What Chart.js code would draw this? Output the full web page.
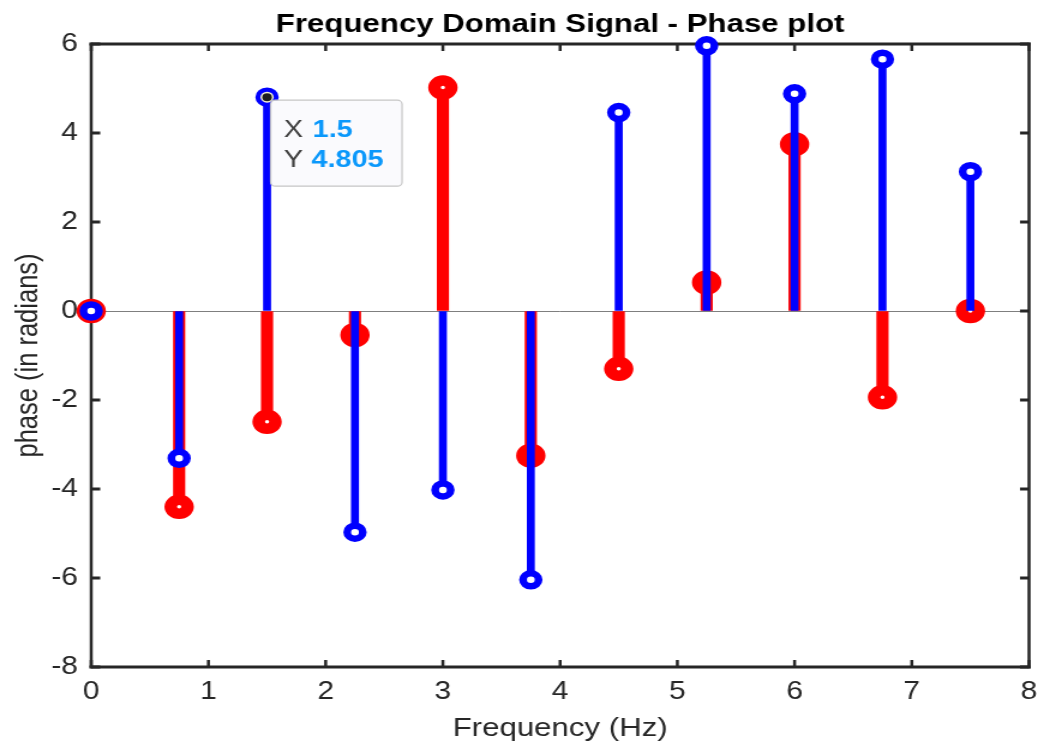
<!DOCTYPE html>
<html>
<head>
<meta charset="utf-8">
<title>Frequency Domain Signal - Phase plot</title>
<script src="https://cdn.jsdelivr.net/npm/chart.js@4"></script>
<style>
    html, body { margin: 0; padding: 0; background: #fff; }
    #phaseChart { display: block; }
</style>
</head>
<body>
<!-- the reference screenshot is stretched sideways, so the canvas is too -->
<canvas id="phaseChart" width="875" height="747" style="width:1050px;height:747px"></canvas>
<script>
const freq = [0, 0.75, 1.5, 2.25, 3, 3.75, 4.5, 5.25, 6, 6.75, 7.5];
const redPhase = [0, -4.40, -2.49, -0.54, 5.02, -3.25, -1.30, 0.64, 3.75, -1.94, 0];
const bluePhase = [0, -3.31, 4.805, -4.97, -4.02, -6.04, 4.46, 5.96, 4.88, 5.66, 3.13];
const xTicks = [0, 1, 2, 3, 4, 5, 6, 7, 8];
const yTicks = [-8, -6, -4, -2, 0, 2, 4, 6];
const tipIndex = 2; // data tip sits on the blue stem at 1.5 Hz

const FONT = '"Liberation Sans", Arial, Helvetica, sans-serif';
const AXIS = '#262626';

const points = vals => freq.map((f, i) => ({ x: f, y: vals[i] }));
const stems = vals => freq.map((f, i) => ({ x: f, y: [0, vals[i]] }));

// title, box and inward ticks like a matlab axes
const matlabAxes = {
    id: 'matlabAxes',
    beforeDatasetsDraw(chart) {
        const { ctx, chartArea: a, scales: { x, y } } = chart;
        ctx.save();
        ctx.strokeStyle = AXIS;
        ctx.lineCap = 'square';

        ctx.lineWidth = 3;
        ctx.beginPath();
        ctx.moveTo(a.left, a.top); ctx.lineTo(a.right, a.top);
        ctx.moveTo(a.left, a.bottom); ctx.lineTo(a.right, a.bottom);
        ctx.stroke();
        ctx.lineWidth = 2.5;
        ctx.beginPath();
        ctx.moveTo(a.left, a.top); ctx.lineTo(a.left, a.bottom);
        ctx.moveTo(a.right, a.top); ctx.lineTo(a.right, a.bottom);
        ctx.stroke();

        ctx.lineCap = 'butt';
        ctx.lineWidth = 2.5;
        ctx.beginPath();
        xTicks.forEach(t => {
            const px = x.getPixelForValue(t);
            ctx.moveTo(px, a.bottom); ctx.lineTo(px, a.bottom - 7);
            ctx.moveTo(px, a.top); ctx.lineTo(px, a.top + 7);
        });
        ctx.stroke();
        ctx.lineWidth = 3;
        ctx.beginPath();
        yTicks.forEach(t => {
            const py = y.getPixelForValue(t);
            ctx.moveTo(a.left, py); ctx.lineTo(a.left + 7.5, py);
            ctx.moveTo(a.right, py); ctx.lineTo(a.right - 7.5, py);
        });
        ctx.stroke();

        ctx.fillStyle = '#000';
        ctx.font = `bold 26px ${FONT}`;
        ctx.textAlign = 'center';
        ctx.textBaseline = 'alphabetic';
        ctx.fillText('Frequency Domain Signal - Phase plot', (a.left + a.right) / 2, 32);
        ctx.restore();
    },
    afterDatasetsDraw(chart) {
        const { ctx, scales: { x, y } } = chart;
        const tx = freq[tipIndex], ty = bluePhase[tipIndex];
        const px = x.getPixelForValue(tx);
        const py = y.getPixelForValue(ty);
        ctx.save();
        // highlighted point
        ctx.fillStyle = '#fbf6d6';
        ctx.beginPath(); ctx.arc(px, py, 5.5, 0, Math.PI * 2); ctx.fill();
        ctx.fillStyle = '#1e1e1e';
        ctx.beginPath(); ctx.arc(px, py, 4, 0, Math.PI * 2); ctx.fill();

        // data tip box
        const bx = px + 3, by = py + 3, bw = 109.5, bh = 86;
        ctx.fillStyle = '#fafafd';
        ctx.strokeStyle = '#c6c6c6';
        ctx.lineWidth = 1.2;
        ctx.beginPath();
        ctx.roundRect(bx, by, bw, bh, 4);
        ctx.fill();
        ctx.stroke();

        ctx.textAlign = 'left';
        ctx.textBaseline = 'alphabetic';
        ctx.font = `24px ${FONT}`;
        ctx.fillStyle = '#404040';
        ctx.fillText('X', bx + 11, py + 40);
        ctx.fillText('Y', bx + 11, py + 70);
        ctx.font = `bold 24px ${FONT}`;
        ctx.fillStyle = '#0a98fb';
        ctx.fillText(String(tx), bx + 35, py + 40);
        ctx.fillText(String(ty), bx + 34, py + 70);
        ctx.restore();
    }
};

new Chart(document.getElementById('phaseChart'), {
    type: 'scatter',
    data: {
        datasets: [
            {
                label: 'blue markers',
                data: points(bluePhase),
                pointStyle: 'circle',
                pointRadius: 6.5,
                pointBorderWidth: 6.5,
                borderColor: '#0000ff',
                backgroundColor: '#ffffff',
                order: 1,
                clip: false,
            },
            {
                type: 'bar',
                label: 'blue stems',
                data: stems(bluePhase),
                backgroundColor: '#0000ff',
                barThickness: 6,
                grouped: false,
                borderWidth: 0,
                order: 2,
            },
            {
                label: 'red markers',
                data: points(redPhase),
                pointStyle: 'circle',
                pointRadius: 7,
                pointBorderWidth: 10.5,
                borderColor: '#ff0000',
                backgroundColor: '#ffffff',
                order: 3,
                clip: false,
            },
            {
                type: 'bar',
                label: 'red stems',
                data: stems(redPhase),
                backgroundColor: '#ff0000',
                barThickness: 9.5,
                grouped: false,
                borderWidth: 0,
                order: 4,
            },
        ]
    },
    options: {
        responsive: false,
        devicePixelRatio: 1,
        animation: false,
        events: [],
        layout: { padding: { left: 0, right: 15, top: 44, bottom: 0 } },
        plugins: {
            legend: { display: false },
            tooltip: { enabled: false },
            title: { display: false },
        },
        scales: {
            x: {
                type: 'linear',
                min: 0,
                max: 8,
                offset: false,
                afterFit: s => { s.height = 80; },
                afterBuildTicks: s => { s.ticks = xTicks.map(v => ({ value: v })); },
                grid: { display: false, drawTicks: false },
                border: { display: false },
                ticks: {
                    autoSkip: false,
                    maxRotation: 0,
                    padding: 10,
                    color: AXIS,
                    font: { family: FONT, size: 25 },
                },
                title: {
                    display: true,
                    text: 'Frequency (Hz)',
                    color: AXIS,
                    font: { family: FONT, size: 26 },
                    padding: { top: 0, bottom: 3 },
                },
            },
            y: {
                type: 'linear',
                min: -8,
                max: 6,
                afterFit: s => { s.width = 76; },
                afterBuildTicks: s => { s.ticks = yTicks.map(v => ({ value: v })); },
                grid: {
                    drawTicks: false,
                    lineWidth: 1,
                    color: c => (c.tick && c.tick.value === 0 ? '#7f7f7f' : 'rgba(0,0,0,0)'),
                },
                border: { display: false },
                ticks: {
                    padding: 11,
                    color: AXIS,
                    font: { family: FONT, size: 25 },
                },
                title: {
                    display: true,
                    text: 'phase (in radians)',
                    color: AXIS,
                    font: { family: FONT, size: 25.5 },
                    padding: { top: 9, bottom: 0 },
                },
            },
        }
    },
    plugins: [matlabAxes]
});
</script>
</body>
</html>
